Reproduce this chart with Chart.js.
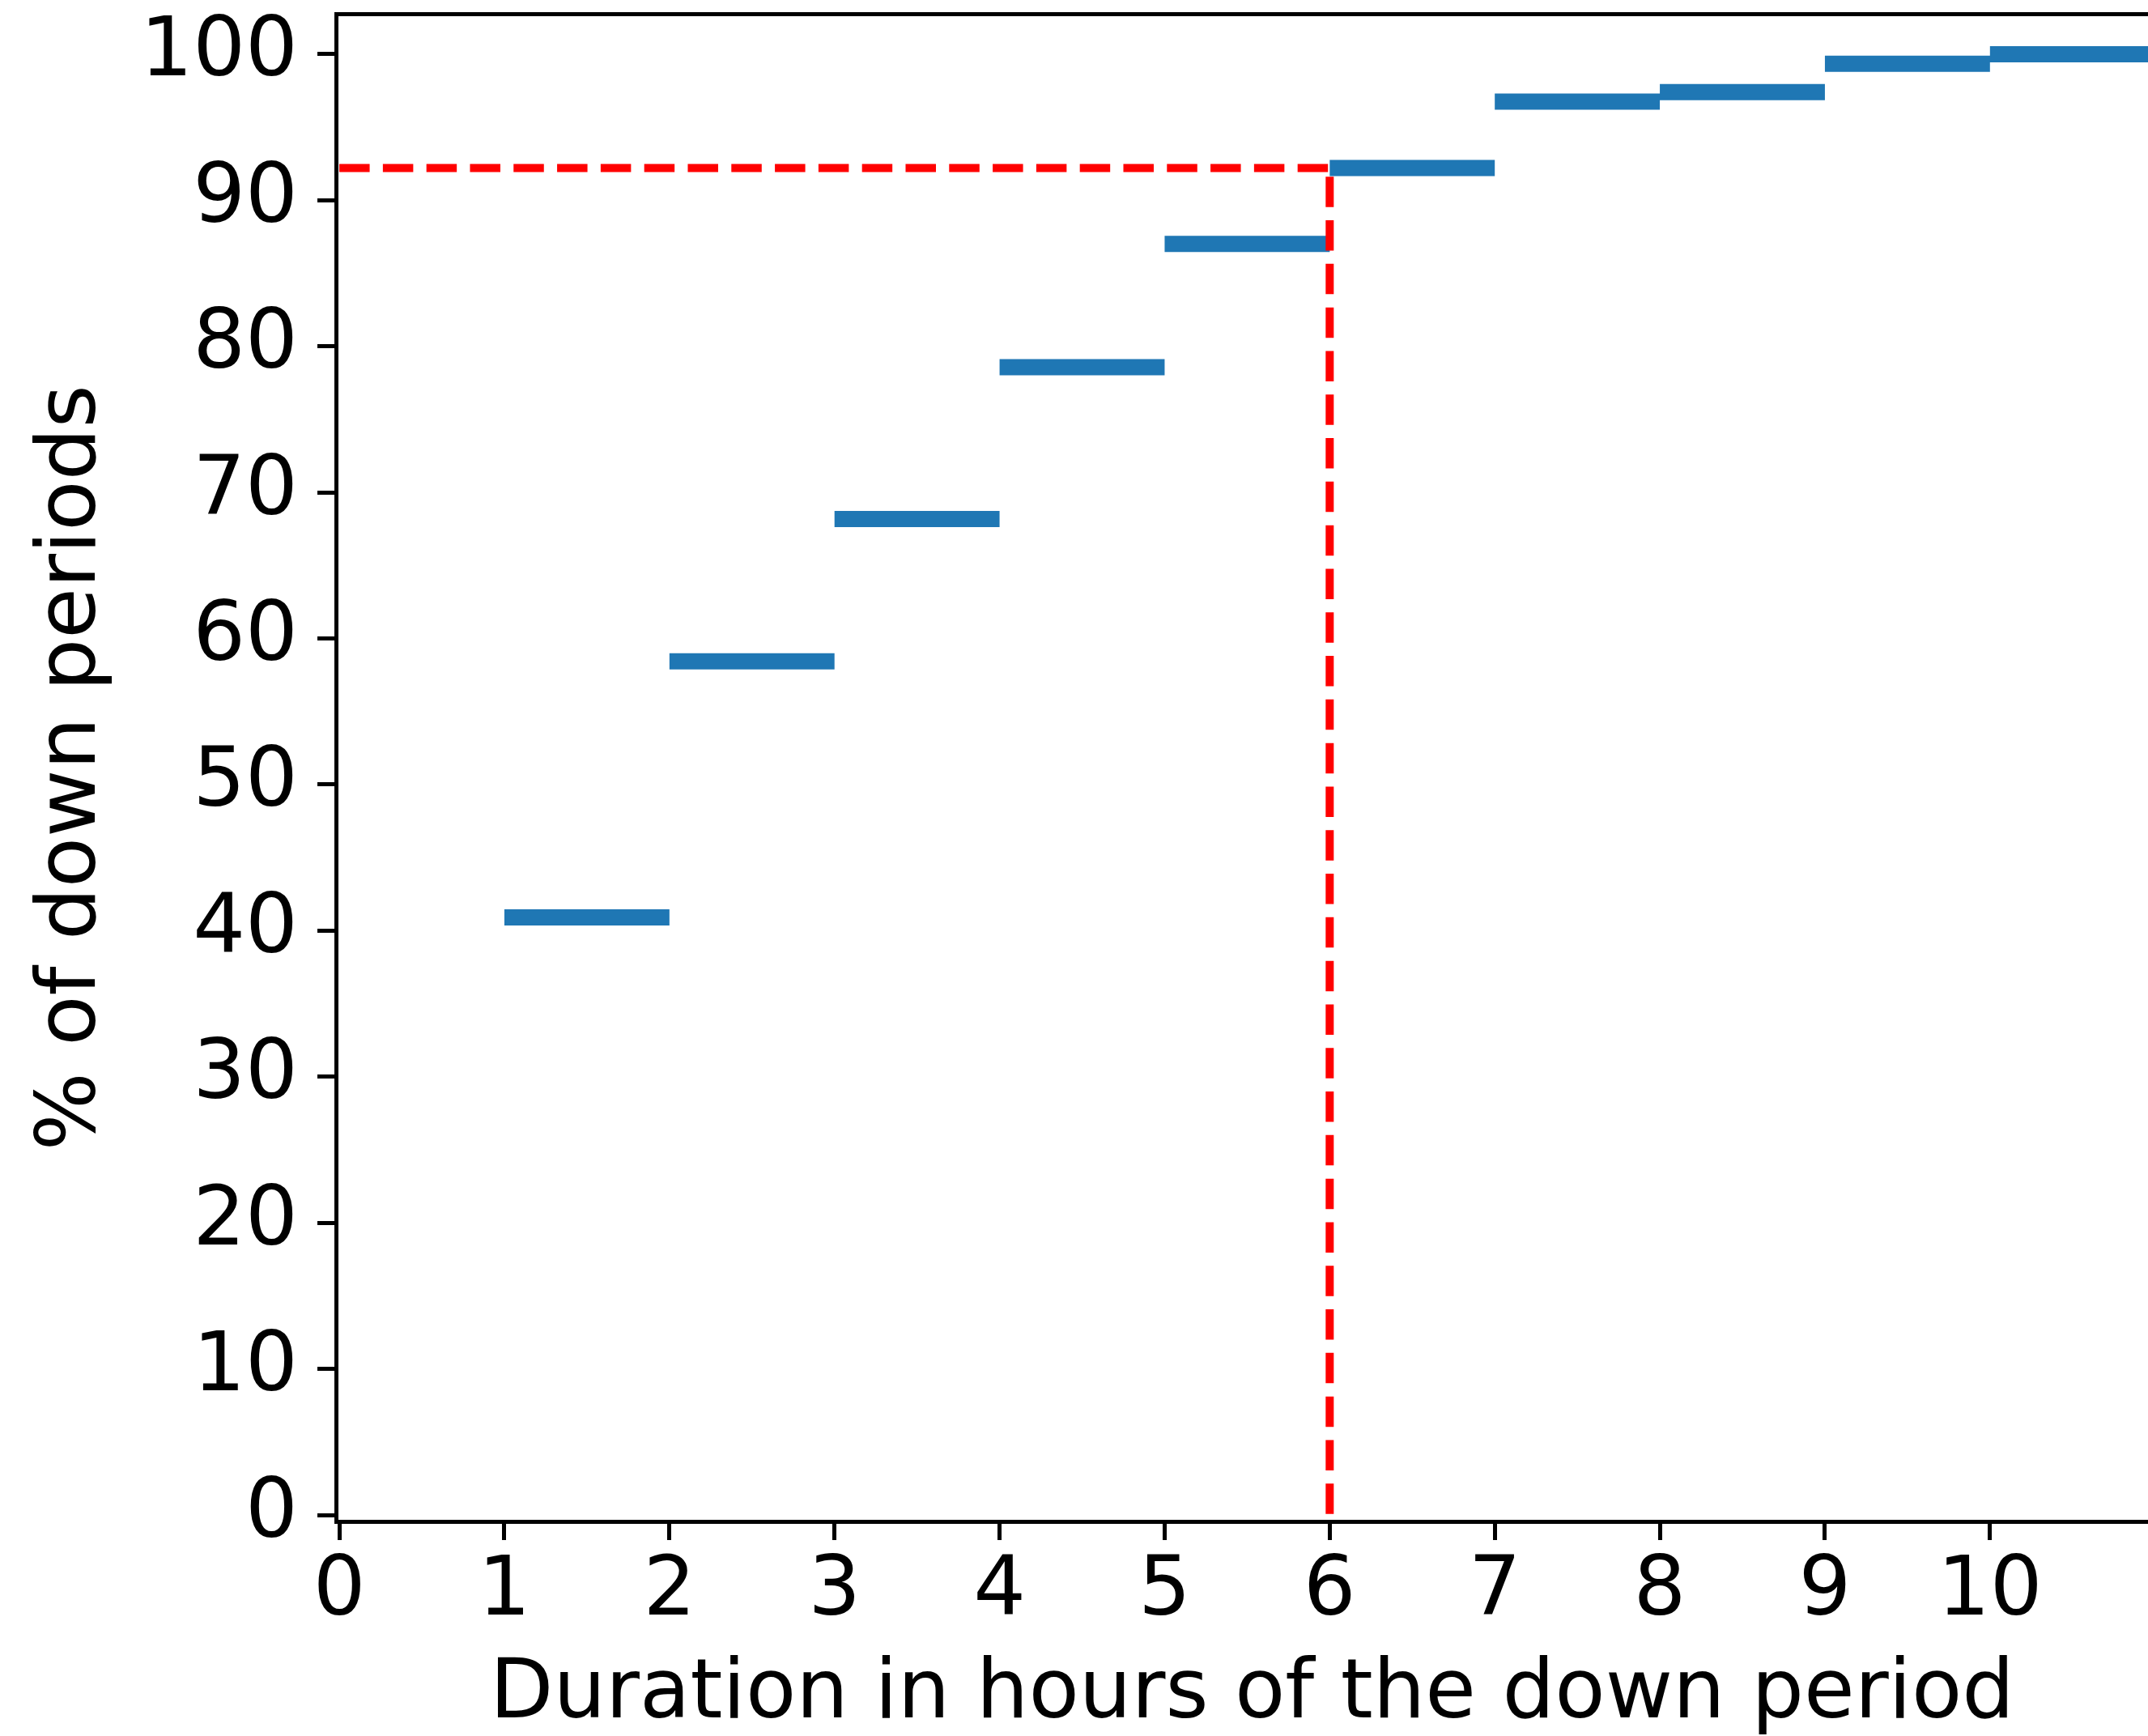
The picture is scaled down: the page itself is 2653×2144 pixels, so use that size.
<!DOCTYPE html>
<html>
<head>
<meta charset="utf-8">
<script src="https://cdn.jsdelivr.net/npm/chart.js@4/dist/chart.umd.min.js"></script>
<style>
  html, body { margin: 0; padding: 0; background: #fff; overflow: hidden; }
  #wrap { width: 2653px; height: 2144px; overflow: hidden; position: relative; }
  canvas { display: block; }
</style>
</head>
<body>
<div id="wrap"><canvas id="c" width="2680" height="2144"></canvas></div>
<script>
// ---- data ----
const durationStarts = [1, 2, 3, 4, 5, 6, 7, 8, 9, 10];
const durationEnds   = [2, 3, 4, 5, 6, 7, 8, 9, 10, 11];
const cumulativePct  = [40.91, 58.44, 68.18, 78.57, 87.01, 92.21, 96.75, 97.40, 99.35, 100.0];
const xTickValues = [0, 1, 2, 3, 4, 5, 6, 7, 8, 9, 10];
const yTickValues = [0, 10, 20, 30, 40, 50, 60, 70, 80, 90, 100];
const markerHour = 6;
const markerPct = 92.21;
const xTitle = 'Duration in hours of the down period';
const yTitle = '% of down periods';

// ---- axis ranges ----
const X_MIN = -0.02, X_MAX = 11.08;
const Y_MIN = -0.44, Y_MAX = 102.74;

const FONT = 'DejaVu Sans';
const FS = 102;
const stepData = cumulativePct.flatMap((v, i) => [
  { x: durationStarts[i], y: v },
  { x: durationEnds[i], y: v },
  { x: durationEnds[i], y: null }
]);

const tickGrid = { display: true, drawOnChartArea: false, drawTicks: true, tickLength: 23, tickWidth: 5, tickColor: '#000' };
const border = { display: true, color: '#000', width: 5 };

new Chart(document.getElementById('c').getContext('2d'), {
  type: 'line',
  data: {
    datasets: [
      {
        label: 'cumulative',
        data: stepData,
        borderColor: '#1f77b4',
        borderWidth: 20,
        borderCapStyle: 'butt',
        pointRadius: 0,
        spanGaps: false,
        tension: 0,
        order: 2
      },
      {
        label: 'hline',
        data: [{ x: 0, y: markerPct }, { x: markerHour, y: markerPct }],
        borderColor: '#ff0000',
        borderWidth: 10,
        borderDash: [37.5, 16.3],
        borderCapStyle: 'butt',
        pointRadius: 0,
        tension: 0,
        order: 1
      },
      {
        label: 'vline',
        data: [{ x: markerHour, y: markerPct }, { x: markerHour, y: Y_MIN }],
        borderColor: '#ff0000',
        borderWidth: 10,
        borderDash: [37.5, 16.3],
        borderDashOffset: 43,
        borderCapStyle: 'butt',
        pointRadius: 0,
        tension: 0,
        order: 1
      }
    ]
  },
  options: {
    responsive: false,
    animation: false,
    events: [],
    layout: { padding: { left: 0, right: 2, top: 17.5, bottom: 0 } },
    plugins: { legend: { display: false }, tooltip: { enabled: false } },
    scales: {
      x: {
        type: 'linear',
        position: 'bottom',
        min: X_MIN,
        max: X_MAX,
        afterBuildTicks: s => { s.ticks = xTickValues.map(v => ({ value: v })); },
        ticks: { color: '#000', font: { family: FONT, size: FS }, padding: 4, maxRotation: 0, autoSkip: false, callback: v => String(v) },
        grid: tickGrid,
        border: border,
        title: { display: true, text: xTitle, color: '#000', font: { family: FONT, size: FS, lineHeight: 0.98 }, padding: { top: 0, bottom: 0 } },
        afterFit: s => { s.height = 265; s.paddingLeft = 0; s.paddingRight = 0; }
      },
      x2: {
        type: 'linear',
        position: 'top',
        min: X_MIN,
        max: X_MAX,
        display: true,
        ticks: { display: false },
        grid: { display: false },
        border: border,
        afterFit: s => { s.height = 0; s.paddingLeft = 0; s.paddingRight = 0; }
      },
      y: {
        type: 'linear',
        position: 'left',
        min: Y_MIN,
        max: Y_MAX,
        afterBuildTicks: s => { s.ticks = yTickValues.map(v => ({ value: v })); },
        ticks: { color: '#000', font: { family: FONT, size: FS }, padding: 24, autoSkip: false, callback: v => String(v) },
        grid: tickGrid,
        border: border,
        title: { display: true, text: yTitle, color: '#000', font: { family: FONT, size: FS, lineHeight: 1.2 }, padding: { top: 28.8, bottom: 0 } },
        afterFit: s => { s.width = 415; s.paddingTop = 0; s.paddingBottom = 0; }
      }
    }
  }
});
</script>
</body>
</html>
